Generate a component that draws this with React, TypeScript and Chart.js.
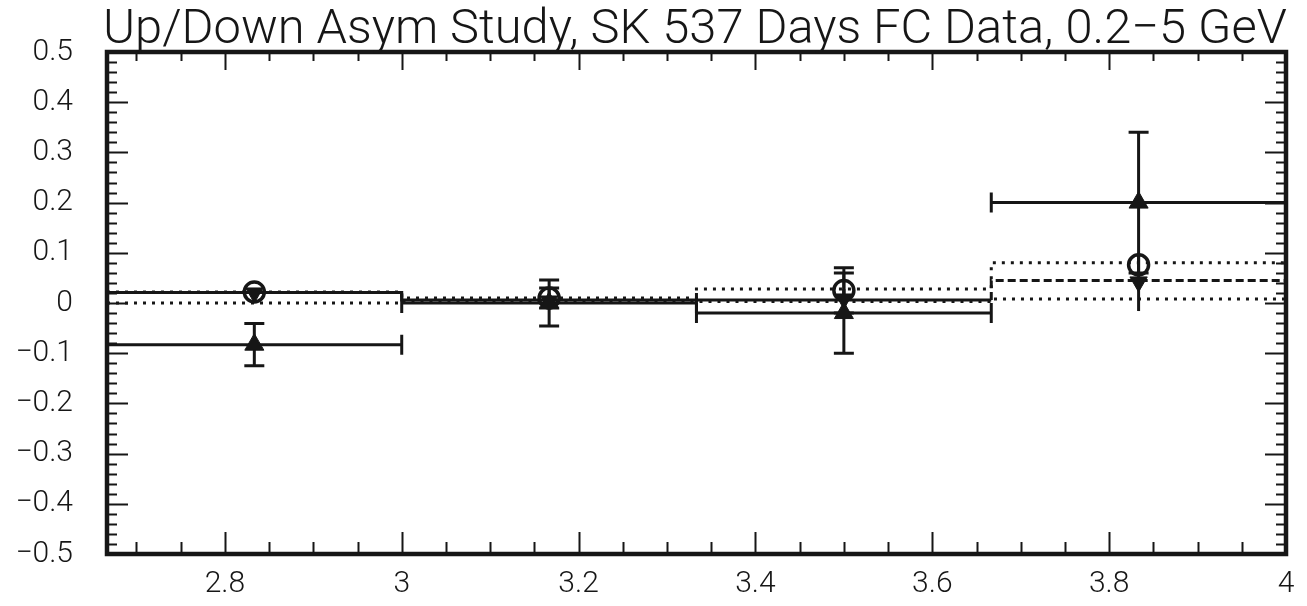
import React, { useEffect, useRef } from "react";
import { Chart, registerables } from "chart.js";

Chart.register(...registerables);

// ---- data ----
const binLow = [2.6667, 3.0, 3.3333, 3.6667];
const binHigh = [3.0, 3.3333, 3.6667, 4.0];
const binCenter = [2.8333, 3.1667, 3.5, 3.8333];

const mcUpper = [0.022, 0.01, 0.028, 0.08];
const mcCenter = [0.021, 0.006, 0.006, 0.045];
const mcLower = [0.0, 0.003, 0.003, 0.008];

const upTriValue = [-0.083, 0.0, -0.02, 0.2];
const upTriErr = [0.042, 0.046, 0.08, 0.14];
const circleValue = [0.022, 0.01, 0.025, 0.076];
const circleErr = [0.0, 0.02, 0.045, 0.0];
const downTriValue = [0.02, 0.004, 0.008, 0.042];
const downTriErr = [0.0, 0.015, 0.02, 0.058];

const xTickValues = [2.8, 3.0, 3.2, 3.4, 3.6, 3.8, 4.0];
const xTickLabels = ["2.8", "3", "3.2", "3.4", "3.6", "3.8", "4"];
const yTickValues = [-0.5, -0.4, -0.3, -0.2, -0.1, 0, 0.1, 0.2, 0.3, 0.4, 0.5];
const yTickLabels = ["\u22120.5", "\u22120.4", "\u22120.3", "\u22120.2", "\u22120.1", "0", "0.1", "0.2", "0.3", "0.4", "0.5"];

const titleText = "Up/Down Asym Study, SK 537 Days FC Data, 0.2\u22125 GeV";

const X_MIN = 2.6667;
const X_MAX = 4.0;
const Y_MIN = -0.5;
const Y_MAX = 0.5;
const X_MINOR = 0.05;
const X_MAJOR = 0.2;
const Y_MINOR = 0.02;
const Y_MAJOR = 0.1;

const INK = "#161616";
const FONT = "Roboto, 'Open Sans', 'DejaVu Sans', sans-serif";

function steps(vals: number[]) {
  const pts: { x: number; y: number }[] = [];
  vals.forEach((v, i) => {
    pts.push({ x: binLow[i], y: v });
    pts.push({ x: binHigh[i], y: v });
  });
  return pts;
}

function markers(vals: number[]) {
  return vals.map((v, i) => ({ x: binCenter[i], y: v }));
}

const hbookPlugin = {
  id: "hbook",
  beforeDatasetsDraw(chart: any) {
    const ctx = chart.ctx as CanvasRenderingContext2D;
    const xs = chart.scales.x;
    const ys = chart.scales.y;
    const area = chart.chartArea;
    ctx.save();
    ctx.beginPath();
    ctx.rect(area.left, area.top, area.right - area.left, area.bottom - area.top);
    ctx.clip();
    ctx.strokeStyle = INK;
    ctx.lineWidth = 3;
    ctx.lineCap = "butt";
    const cap = 10;
    const vbar = (vals: number[], errs: number[], caps: boolean) => {
      vals.forEach((v, i) => {
        const e = errs[i];
        if (!(e > 0)) return;
        const px = xs.getPixelForValue(binCenter[i]);
        const y1 = ys.getPixelForValue(v + e);
        const y2 = ys.getPixelForValue(v - e);
        ctx.beginPath();
        ctx.moveTo(px, y1);
        ctx.lineTo(px, y2);
        if (caps) {
          ctx.moveTo(px - cap, y1);
          ctx.lineTo(px + cap, y1);
          ctx.moveTo(px - cap, y2);
          ctx.lineTo(px + cap, y2);
        }
        ctx.stroke();
      });
    };
    vbar(upTriValue, upTriErr, true);
    vbar(circleValue, circleErr, true);
    vbar(downTriValue, downTriErr, false);
    // horizontal bars of the up-triangle series
    upTriValue.forEach((v, i) => {
      const py = ys.getPixelForValue(v);
      const x1 = xs.getPixelForValue(binLow[i]);
      const x2 = xs.getPixelForValue(binHigh[i]);
      ctx.beginPath();
      ctx.moveTo(x1, py);
      ctx.lineTo(x2, py);
      ctx.moveTo(x1, py - cap);
      ctx.lineTo(x1, py + cap);
      ctx.moveTo(x2, py - cap);
      ctx.lineTo(x2, py + cap);
      ctx.stroke();
    });
    ctx.restore();
  },
  afterDraw(chart: any) {
    const ctx = chart.ctx as CanvasRenderingContext2D;
    const xs = chart.scales.x;
    const ys = chart.scales.y;
    const { left, right, top, bottom } = chart.chartArea;
    ctx.save();
    ctx.strokeStyle = INK;
    // ticks
    ctx.lineWidth = 2;
    ctx.beginPath();
    const nX = Math.round((X_MAX - 2.65) / X_MINOR) + 1;
    for (let k = 0; k <= nX; k++) {
      const v = 2.65 + k * X_MINOR;
      if (v <= X_MIN + 1e-6 || v >= X_MAX - 1e-6) continue;
      const major = Math.abs(v / X_MAJOR - Math.round(v / X_MAJOR)) < 1e-6;
      const len = major ? 22 : 12;
      const px = Math.round(xs.getPixelForValue(v)) + 0.5;
      ctx.moveTo(px, bottom);
      ctx.lineTo(px, bottom - len);
      ctx.moveTo(px, top);
      ctx.lineTo(px, top + (major ? 18 : 9));
    }
    const nY = Math.round((Y_MAX - Y_MIN) / Y_MINOR);
    for (let k = 1; k < nY; k++) {
      const v = Y_MIN + k * Y_MINOR;
      const major = Math.abs(v / Y_MAJOR - Math.round(v / Y_MAJOR)) < 1e-6;
      const len = major ? 21 : 10;
      const py = Math.round(ys.getPixelForValue(v)) + 0.5;
      ctx.moveTo(left, py);
      ctx.lineTo(left + len, py);
      ctx.moveTo(right, py);
      ctx.lineTo(right - len, py);
    }
    ctx.stroke();
    // frame
    ctx.lineWidth = 4.5;
    ctx.strokeRect(left, top, right - left, bottom - top);
    // title
    ctx.fillStyle = INK;
    let size = 40;
    ctx.font = `300 ${size}px ${FONT}`;
    const w = ctx.measureText(titleText).width;
    size = (size * 1184) / w;
    ctx.font = `300 ${size}px ${FONT}`;
    ctx.textAlign = "left";
    ctx.textBaseline = "alphabetic";
    ctx.fillText(titleText, 103, 43);
    ctx.restore();
  },
};

export default function App() {
  const ref = useRef<HTMLCanvasElement | null>(null);
  useEffect(() => {
    document.body.style.margin = "0";
    const canvas = ref.current!;
    const dotted = [3, 6];
    const chart = new Chart(canvas, {
      type: "scatter",
      data: {
        datasets: [
          {
            label: "up",
            data: markers(upTriValue),
            showLine: false,
            pointStyle: "triangle",
            pointRadius: 11,
            pointBackgroundColor: INK,
            pointBorderColor: INK,
            pointBorderWidth: 1,
          },
          {
            label: "down",
            data: markers(downTriValue),
            showLine: false,
            pointStyle: "triangle",
            rotation: 180,
            pointRadius: 10,
            pointBackgroundColor: INK,
            pointBorderColor: INK,
            pointBorderWidth: 1,
          } as any,
          {
            label: "circle",
            data: markers(circleValue),
            showLine: false,
            pointStyle: "circle",
            pointRadius: 10,
            pointBackgroundColor: "rgba(0,0,0,0)",
            pointBorderColor: INK,
            pointBorderWidth: 3.5,
          },
          {
            label: "mcCenter",
            data: steps(mcCenter),
            showLine: true,
            pointRadius: 0,
            borderColor: INK,
            borderWidth: 3,
            segment: {
              borderDash: (c: any) => (c.p0.parsed.x >= 3.66 ? [8, 4] : undefined),
            },
          },
          {
            label: "mcUpper",
            data: steps(mcUpper),
            showLine: true,
            pointRadius: 0,
            borderColor: INK,
            borderWidth: 3,
            borderDash: dotted,
          },
          {
            label: "mcLower",
            data: steps(mcLower),
            showLine: true,
            pointRadius: 0,
            borderColor: INK,
            borderWidth: 3,
            borderDash: dotted,
          },
        ],
      },
      options: {
        responsive: false,
        animation: false,
        events: [],
        layout: { padding: { top: 50, right: 21, left: 0, bottom: 0 } },
        plugins: {
          legend: { display: false },
          tooltip: { enabled: false },
          title: { display: false },
        },
        scales: {
          x: {
            type: "linear",
            min: X_MIN,
            max: X_MAX,
            afterBuildTicks: (s: any) => {
              s.ticks = xTickValues.map((v) => ({ value: v }));
            },
            afterFit: (s: any) => {
              s.height = 45;
            },
            grid: { display: false, drawTicks: false },
            border: { display: false },
            ticks: {
              autoSkip: false,
              maxRotation: 0,
              padding: 12,
              color: INK,
              font: { family: FONT, size: 30, weight: "300" as any },
              callback: (v: any) => {
                const i = xTickValues.findIndex((t) => Math.abs(t - Number(v)) < 1e-6);
                return i >= 0 ? xTickLabels[i] : "";
              },
            },
          },
          y: {
            type: "linear",
            min: Y_MIN,
            max: Y_MAX,
            afterBuildTicks: (s: any) => {
              s.ticks = yTickValues.map((v) => ({ value: v }));
            },
            afterFit: (s: any) => {
              s.width = 107;
            },
            grid: { display: false, drawTicks: false },
            border: { display: false },
            ticks: {
              autoSkip: false,
              padding: 34,
              color: INK,
              font: { family: FONT, size: 30, weight: "300" as any },
              callback: (v: any) => {
                const i = yTickValues.findIndex((t) => Math.abs(t - Number(v)) < 1e-6);
                return i >= 0 ? yTickLabels[i] : "";
              },
            },
          },
        },
      },
      plugins: [hbookPlugin],
    } as any);
    return () => chart.destroy();
  }, []);
  return (
    <div style={{ position: "fixed", left: 0, top: 0, width: 1307, height: 606, background: "#fff" }}>
      <canvas ref={ref} width={1307} height={606} style={{ display: "block" }} />
    </div>
  );
}
